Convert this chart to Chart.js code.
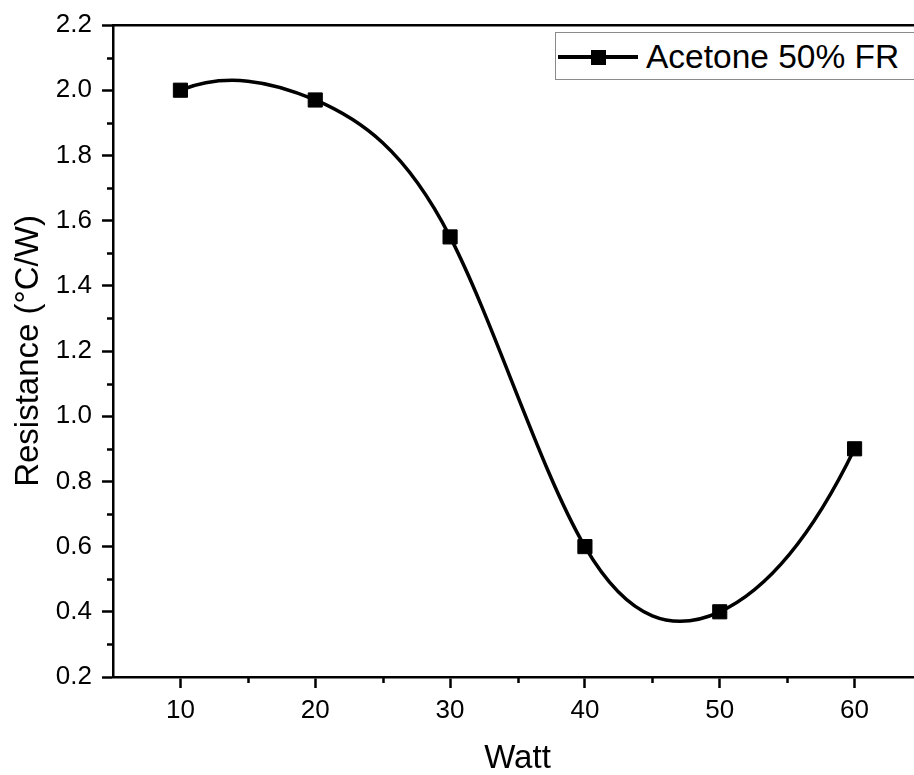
<!DOCTYPE html>
<html><head><meta charset="utf-8">
<script src="https://cdn.jsdelivr.net/npm/chart.js@4.4.0/dist/chart.umd.min.js"></script>
<style>
html,body{margin:0;padding:0;background:#fff;overflow:hidden;width:914px;height:775px;}
#wrap{position:relative;width:940px;height:775px;}
#c{position:absolute;left:0;top:0;}
#legend{position:absolute;left:555px;top:32px;width:420px;height:48px;border:1.5px solid #8a8a8a;box-sizing:border-box;background:#fff;font-family:"Liberation Sans",Arial,sans-serif;color:#000;}
#legend .ln{position:absolute;left:2px;top:22px;width:80px;height:3.5px;background:#000;}
#legend .sq{position:absolute;left:35px;top:16.5px;width:15px;height:15px;background:#000;}
#legend .tx{position:absolute;left:90px;top:7px;font-size:33.5px;line-height:33px;white-space:nowrap;}
</style></head>
<body>
<div id="wrap">
<canvas id="c" width="940" height="775"></canvas>
<div id="legend"><div class="ln"></div><div class="sq"></div><span class="tx" id="legText"></span></div>
</div>
<script>
// ---- data ----
const watts = [10, 20, 30, 40, 50, 60];
const resistance = [2.0, 1.97, 1.55, 0.6, 0.4, 0.9];
const seriesName = 'Acetone 50% FR';
const xTickValues = [10, 20, 30, 40, 50, 60];
const xMinorTicks = [15, 25, 35, 45, 55, 65];
const yTickValues = [0.2, 0.4, 0.6, 0.8, 1.0, 1.2, 1.4, 1.6, 1.8, 2.0, 2.2];
const yMinorTicks = [0.3, 0.5, 0.7, 0.9, 1.1, 1.3, 1.5, 1.7, 1.9, 2.1];
const xTitle = 'Watt';
const yTitle = 'Resistance (°C/W)';

document.getElementById('legText').textContent = seriesName;

const FONT = '"Liberation Sans", Arial, sans-serif';
const MAJOR_LEN = 11, MINOR_LEN = 6, AXIS_W = 2.5;

// Cubic spline (clamped with parabolic end slopes) -> sets Bezier control points
function splineSlopes(xs, ys) {
  const n = xs.length;
  const h = [];
  for (let i = 0; i < n - 1; i++) h.push(xs[i + 1] - xs[i]);
  const m = new Array(n).fill(0);
  const d0 = (ys[1] - ys[0]) / h[0], d1 = (ys[2] - ys[1]) / h[1];
  m[0] = ((2 * h[0] + h[1]) * d0 - h[0] * d1) / (h[0] + h[1]);
  const k = n - 1;
  const e0 = (ys[k] - ys[k - 1]) / h[k - 1], e1 = (ys[k - 1] - ys[k - 2]) / h[k - 2];
  m[k] = ((2 * h[k - 1] + h[k - 2]) * e0 - h[k - 1] * e1) / (h[k - 1] + h[k - 2]);
  const a = [], b = [], c = [], r = [];
  for (let i = 1; i < k; i++) {
    a.push(h[i]); b.push(2 * (h[i - 1] + h[i])); c.push(h[i - 1]);
    r.push(3 * (h[i] * (ys[i] - ys[i - 1]) / h[i - 1] + h[i - 1] * (ys[i + 1] - ys[i]) / h[i]));
  }
  r[0] -= a[0] * m[0];
  r[r.length - 1] -= c[c.length - 1] * m[k];
  const N = r.length;
  for (let i = 1; i < N; i++) {
    const w = a[i] / b[i - 1];
    b[i] -= w * c[i - 1];
    r[i] -= w * r[i - 1];
  }
  const sol = new Array(N);
  sol[N - 1] = r[N - 1] / b[N - 1];
  for (let i = N - 2; i >= 0; i--) sol[i] = (r[i] - c[i] * sol[i + 1]) / b[i];
  for (let i = 0; i < N; i++) m[i + 1] = sol[i];
  return m;
}

const splinePlugin = {
  id: 'splineCP',
  beforeDatasetDraw(chart, args) {
    const meta = chart.getDatasetMeta(args.index);
    const line = meta.dataset;
    if (!line) return;
    const pts = meta.data;
    const xs = chart.scales.x, ys = chart.scales.y;
    line.updateControlPoints && line.updateControlPoints(chart.chartArea, 'x');
    const m = splineSlopes(watts, resistance);
    for (let i = 0; i < pts.length; i++) {
      const p = pts[i];
      if (i > 0) {
        const h = watts[i] - watts[i - 1];
        p.cp1x = xs.getPixelForValue(watts[i] - h / 3);
        p.cp1y = ys.getPixelForValue(resistance[i] - m[i] * h / 3);
      } else { p.cp1x = p.x; p.cp1y = p.y; }
      if (i < pts.length - 1) {
        const h = watts[i + 1] - watts[i];
        p.cp2x = xs.getPixelForValue(watts[i] + h / 3);
        p.cp2y = ys.getPixelForValue(resistance[i] + m[i] * h / 3);
      } else { p.cp2x = p.x; p.cp2y = p.y; }
    }
    line._pointsUpdated = true;
    line._path = undefined;
  }
};

const minorTicksPlugin = {
  id: 'minorTicks',
  afterDraw(chart) {
    const ctx = chart.ctx, a = chart.chartArea;
    const xs = chart.scales.x, ys = chart.scales.y;
    ctx.save();
    ctx.strokeStyle = '#000';
    ctx.lineWidth = AXIS_W;
    ctx.beginPath();
    xMinorTicks.forEach(v => {
      const px = Math.round(xs.getPixelForValue(v)) + 0.5;
      ctx.moveTo(px, a.bottom); ctx.lineTo(px, a.bottom + MINOR_LEN);
    });
    yMinorTicks.forEach(v => {
      const py = Math.round(ys.getPixelForValue(v)) + 0.5;
      ctx.moveTo(a.left, py); ctx.lineTo(a.left - MINOR_LEN, py);
    });
    ctx.stroke();
    ctx.restore();
  }
};

const axisCommon = {
  grid: { drawOnChartArea: false, drawTicks: true, tickLength: MAJOR_LEN, tickWidth: AXIS_W, tickColor: '#000' },
  border: { display: true, color: '#000', width: AXIS_W }
};

new Chart(document.getElementById('c'), {
  type: 'line',
  data: {
    datasets: [{
      label: seriesName,
      data: watts.map((w, i) => ({ x: w, y: resistance[i] })),
      borderColor: '#000',
      backgroundColor: '#000',
      borderWidth: 3.5,
      tension: 0.4,
      fill: false,
      pointStyle: 'rect',
      pointRadius: 10,
      pointBorderWidth: 1,
      pointBackgroundColor: '#000',
      pointBorderColor: '#000',
      clip: false
    }]
  },
  options: {
    responsive: false,
    animation: false,
    events: [],
    layout: { padding: 0 },
    plugins: { legend: { display: false }, tooltip: { enabled: false } },
    scales: {
      x: {
        type: 'linear', position: 'bottom', min: 5, max: 65,
        afterBuildTicks: s => { s.ticks = xTickValues.map(v => ({ value: v })); },
        afterFit: s => { s.height = 98; s.paddingLeft = 0; s.paddingRight = 0; },
        ...axisCommon,
        ticks: { color: '#000', font: { family: FONT, size: 26 }, padding: 7, maxRotation: 0, autoSkip: false },
        title: { display: true, text: xTitle, color: '#000', font: { family: FONT, size: 33, lineHeight: 1 }, padding: 0 }
      },
      y: {
        type: 'linear', position: 'left', min: 0.2, max: 2.2,
        afterBuildTicks: s => { s.ticks = yTickValues.map(v => ({ value: v })); },
        afterFit: s => { s.width = 113; s.paddingTop = 0; s.paddingBottom = 0; },
        ...axisCommon,
        ticks: { color: '#000', font: { family: FONT, size: 26 }, padding: 10, callback: v => Number(v).toFixed(1) },
        title: { display: true, text: yTitle, color: '#000', font: { family: FONT, size: 33, lineHeight: 1 }, padding: { top: 12, bottom: 0 } }
      },
      xTop: {
        type: 'linear', position: 'top', min: 5, max: 65,
        ticks: { display: false },
        grid: { drawOnChartArea: false, drawTicks: false },
        border: { display: true, color: '#000', width: AXIS_W },
        afterFit: s => { s.height = 25; s.paddingLeft = 0; s.paddingRight = 0; }
      },
      yRight: {
        type: 'linear', position: 'right', min: 0.2, max: 2.2,
        ticks: { display: false },
        grid: { drawOnChartArea: false, drawTicks: false },
        border: { display: true, color: '#000', width: AXIS_W },
        afterFit: s => { s.width = 18; s.paddingTop = 0; s.paddingBottom = 0; }
      }
    }
  },
  plugins: [splinePlugin, minorTicksPlugin]
});
</script>
</body></html>
